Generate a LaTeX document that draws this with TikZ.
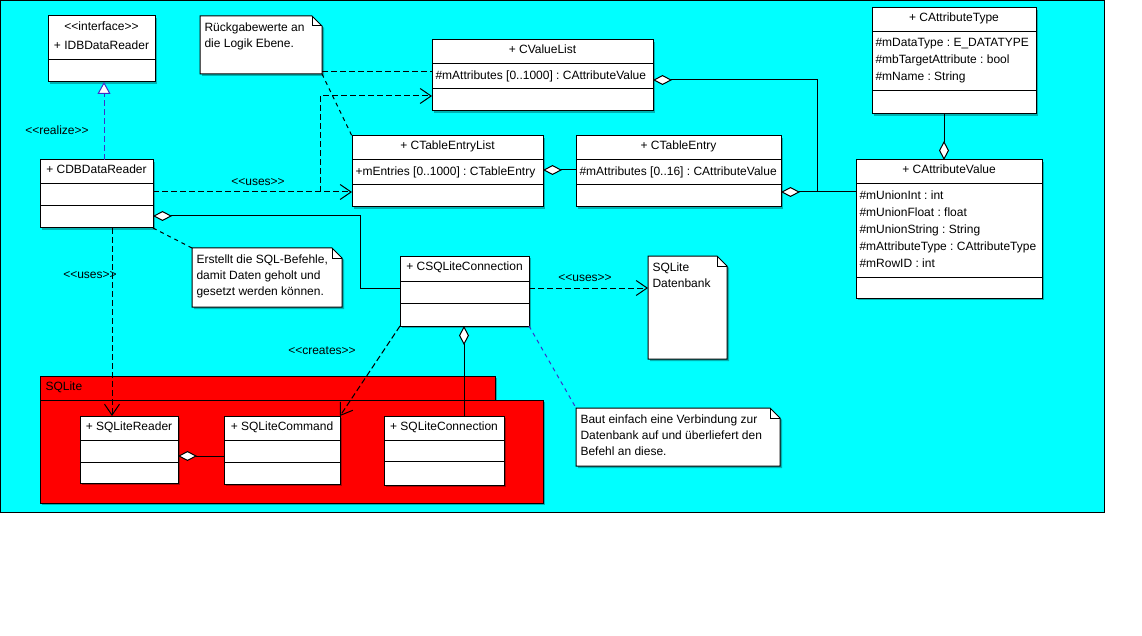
\documentclass[tikz,border=0pt]{standalone}
\usepackage{fontspec}
\setmainfont{Liberation Sans}
\usetikzlibrary{arrows.meta,calc}

\definecolor{canvascyan}{RGB}{0,255,255}
\definecolor{pkgred}{RGB}{255,0,0}
\definecolor{anchorblue}{RGB}{60,50,200}

\tikzset{
  boxshadow/.style={fill=black, fill opacity=0.3},
  classbox/.style={draw=black, fill=white, inner sep=0pt, outer sep=0pt, anchor=north west},
  blank/.style={inner sep=0pt, outer sep=0pt, anchor=north west},
  titletext/.style={inner sep=0pt, anchor=base},
  listtext/.style={inner sep=0pt, anchor=north west, align=left,
    font=\fontsize{12}{17}\selectfont, execute at begin node={\rule{0pt}{9pt}}},
  notetext/.style={inner sep=0pt, anchor=north west, align=left,
    font=\fontsize{12}{15.8}\selectfont, execute at begin node={\rule{0pt}{9pt}}},
  stereo/.style={inner sep=0pt},
  uses/.style={dash pattern=on 6pt off 3pt, -{Straight Barb[length=11pt,width=15pt]}},
  realizes/.style={draw=anchorblue, dash pattern=on 6pt off 3pt,
    -{Triangle[fill=white,length=12pt,width=13pt]}},
  aggregate/.style={{Diamond[fill=white,length=19pt,width=10pt]}-},
  noteanchor/.style={dash pattern=on 4pt off 4pt},
  notelink/.style={dash pattern=on 6pt off 3pt},
}

% stereotype text in double angle brackets (kept as two plain signs)
\newcommand\umlstereo[1]{<\kern0pt<#1>\kern0pt>}

% class box: name, left, top, width, height, divider 1, divider 2, title
\newcommand\umlclass[8]{%
  \fill[boxshadow] (#2+2,#3+2) rectangle (#2+#4+2,#3+#5+2);
  \node[classbox, minimum width=#4pt, minimum height=#5pt] (#1) at (#2,#3) {};
  \draw (#2,#6) -- (#2+#4,#6);
  \draw (#2,#7) -- (#2+#4,#7);
  \node[titletext] (#1-name) at (#2+#4/2,#3+14) {#8};
}

% note with folded corner: name, left, top, width, height
\newcommand\umlnote[5]{%
  \node[blank, minimum width=#4pt, minimum height=#5pt] (#1) at (#2,#3) {};
  \fill[boxshadow] ($(#1.north west)+(2,2)$) -- ($(#1.north east)+(-8,2)$)
    -- ($(#1.north east)+(2,12)$) -- ($(#1.south east)+(2,2)$)
    -- ($(#1.south west)+(2,2)$) -- cycle;
  \draw[fill=white] (#1.north west) -- ($(#1.north east)+(-10,0)$)
    -- ($(#1.north east)+(0,10)$) -- (#1.south east) -- (#1.south west) -- cycle;
  \draw ($(#1.north east)+(-10,0)$) |- ($(#1.north east)+(0,10)$);
}

\begin{document}
\frenchspacing
\begin{tikzpicture}[x=1pt, y=-1pt, line width=1pt, font=\fontsize{12}{16}\selectfont]
\useasboundingbox (0,0) rectangle (1142,636);
\draw[fill=canvascyan] (0.5,0.5) rectangle (1104.5,512.5);

% interface
\fill[boxshadow] (50,18) rectangle (157,84);
\node[classbox, minimum width=107pt, minimum height=66pt] (idb) at (48,16) {};
\draw (48,60) -- (155,60);
\node[titletext] (idb-stereo) at (101.5,31) {\umlstereo{interface}};
\node[titletext] (idb-name) at (101.5,50) {+ IDBDataReader};

% classes of the data layer
\umlclass{cdb}{40}{160}{113}{68}{184}{206}{+ CDBDataReader}
\umlclass{cvl}{432}{40}{221}{71}{64}{89}{+ CValueList}
\umlclass{tel}{352}{136}{191}{71}{160}{185}{+ CTableEntryList}
\umlclass{te}{576}{136}{205}{71}{160}{185}{+ CTableEntry}
\umlclass{cat}{872}{8}{164}{106}{32}{91}{+ CAttributeType}
\umlclass{cav}{856}{160}{186}{138}{184}{277}{+ CAttributeValue}
\umlclass{csc}{400}{256}{129}{70}{281}{303}{+ CSQLiteConnection}

\node[listtext] (cvl-attr) at (435,70) {\#mAttributes [0..1000] : CAttributeValue};
\node[listtext] (tel-attr) at (355,166) {+mEntries [0..1000] : CTableEntry};
\node[listtext] (te-attr) at (579,166) {\#mAttributes [0..16] : CAttributeValue};
\node[listtext] (cat-attr) at (875,38) {\#mDataType : E\_DATATYPE\\\#mbTargetAttribute : bool\\\#mName : String};
\node[listtext] (cav-attr) at (859,190) {\#mUnionInt : int\\\#mUnionFloat : float\\\#mUnionString : String\\\#mAttributeType : CAttributeType\\\#mRowID : int};

% SQLite package
\fill[boxshadow] (42,378) rectangle (497,402);
\fill[boxshadow] (42,402) rectangle (545,505);
\node[classbox, fill=pkgred, minimum width=455pt, minimum height=24pt] (pkgtab) at (40,376) {};
\node[classbox, fill=pkgred, minimum width=503pt, minimum height=103pt] (pkg) at (40,400) {};
\node[inner sep=0pt, anchor=base west] (pkg-name) at (45,390) {SQLite};

\umlclass{sqr}{80}{416}{98}{67}{440}{462}{+ SQLiteReader}
\umlclass{scmd}{224}{416}{116}{68}{440}{462}{+ SQLiteCommand}
\umlclass{sqc}{384}{416}{120}{69}{440}{461}{+ SQLiteConnection}

% notes
\umlnote{nret}{200}{16}{122}{58}
\node[notetext] (nret-text) at (204,22.5) {Rückgabewerte an\\die Logik Ebene.};
\umlnote{nsql}{192}{248}{150}{59}
\node[notetext] (nsql-text) at (196,254.5) {Erstellt die SQL-Befehle,\\damit Daten geholt und\\gesetzt werden können.};
\umlnote{ndb}{648}{256}{79}{103}
\node[notetext] (ndb-text) at (652,262.5) {SQLite\\Datenbank};
\umlnote{nconn}{576}{408}{204}{58}
\node[notetext] (nconn-text) at (580,414.5) {Baut einfach eine Verbindung zur\\Datenbank auf und überliefert den\\Befehl an diese.};

% realization
\draw[realizes] ($(cdb.north west)+(64,0)$) -- ($(idb.south west)+(56,0)$);
\node[stereo] (lrealize) at (57,130) {\umlstereo{realize}};

% dependencies of the reader
\coordinate (usesplit) at ($(cdb.north east)+(167,32)$);
\draw[uses] ($(cdb.north east)+(0,32)$) -- ($(tel.north west)+(0,56)$);
\draw[uses] (usesplit) |- ($(cvl.north west)+(0,56)$);
\node[stereo] (luses1) at (258,182) {\umlstereo{uses}};
\draw[uses] ($(cdb.south west)+(72,0)$) -- ($(sqr.north west)+(32,0)$);
\node[stereo] (luses2) at (90,275) {\umlstereo{uses}};

% note links
\coordinate (cvlnote) at ($(cvl.north west)+(0,32)$);
\draw[notelink] (nret.east |- cvlnote) -- (cvlnote);
\draw[noteanchor] (nret.south east) -- (tel.north west);
\draw[noteanchor] (cdb.south east) -- (nsql.north west);
\draw[noteanchor, anchorblue] (csc.south east) -- (nconn.north west);

% aggregations
\draw[aggregate] ($(cvl.north east)+(0,40)$) -| ($(cav.north west)+(-39,32)$) -- ($(cav.north west)+(0,32)$);
\draw[aggregate] ($(te.north east)+(0,56)$) -- ($(cav.north west)+(0,32)$);
\draw[aggregate] ($(tel.north east)+(0,34)$) -- ($(te.north west)+(0,34)$);
\draw[aggregate] ($(cav.north west)+(88,0)$) -- ($(cat.south west)+(72,0)$);
\draw[aggregate] ($(cdb.north east)+(0,56)$) -| ($(csc.north west)+(-40,32)$) -- ($(csc.north west)+(0,32)$);
\draw[aggregate] ($(csc.south west)+(64,0)$) -- ($(sqc.north west)+(80,0)$);
\draw[aggregate] ($(sqr.north east)+(0,40)$) -- ($(scmd.north west)+(0,40)$);

% dependencies of the connection
\draw[uses] (csc.south west) -- (scmd.north east);
\node[stereo] (lcreates) at (322,351) {\umlstereo{creates}};
\draw[uses] ($(csc.north east)+(0,32)$) -- ($(ndb.north west)+(0,32)$);
\node[stereo] (luses3) at (585,278) {\umlstereo{uses}};
\end{tikzpicture}
\end{document}
